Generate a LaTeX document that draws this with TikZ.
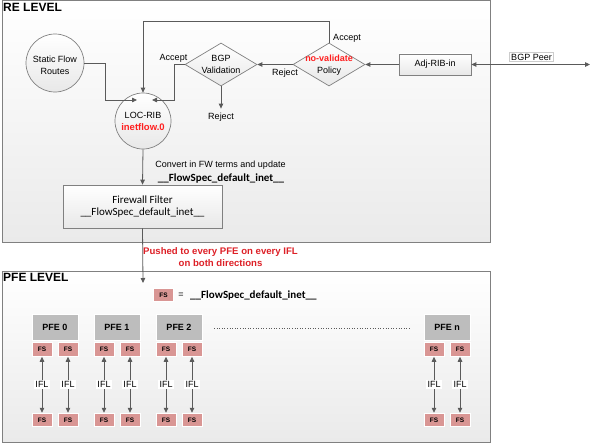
\documentclass[tikz,border=0pt]{standalone}
\usepackage{fontspec}
\setmainfont{Liberation Sans}
\newfontfamily\calfont{Carlito}
\usetikzlibrary{shapes.geometric,arrows.meta}
\definecolor{ln}{HTML}{5A5A5A}
\definecolor{bd}{HTML}{808080}
\definecolor{fsfill}{HTML}{D99694}
\definecolor{pfefill}{HTML}{BDBDBD}
\definecolor{redtxt}{HTML}{FF1F1F}
\definecolor{redpush}{HTML}{DD2027}
\definecolor{lvlbot}{HTML}{EAEAEA}
\definecolor{shpbot}{HTML}{E8E8E8}
\newcommand{\fsname}{\_\_FlowSpec\_default\_inet\_\_}
\begin{document}
\begin{tikzpicture}[x=1pt,y=-1pt,
  every node/.style={font=\fontsize{9}{12}\selectfont, inner sep=0pt, text=black},
  arr/.style={draw=ln, line width=0.8pt, -{Triangle[length=5pt,width=4.5pt]}},
  dblarr/.style={draw=ln, line width=0.8pt, {Triangle[length=5pt,width=4.5pt]}-{Triangle[length=5pt,width=4.5pt]}},
  levelbox/.style={rectangle, draw=bd, line width=1pt, top color=white, bottom color=lvlbot},
  circ/.style={circle, draw=bd, line width=0.7pt, top color=white, bottom color=shpbot},
  dia/.style={diamond, draw=bd, line width=0.7pt, top color=white, bottom color=shpbot, minimum width=72pt, minimum height=43pt},
  rbox/.style={rectangle, draw=bd, line width=0.7pt, top color=white, bottom color=shpbot},
  fsbox/.style={rectangle, fill=fsfill, draw=white, line width=1pt, minimum width=20pt, minimum height=13.5pt, font=\fontsize{6.5}{7}\selectfont\bfseries},
  pfebox/.style={rectangle, fill=pfefill, draw=white, line width=1pt, minimum width=46pt, minimum height=26pt, font=\fontsize{9}{10}\selectfont\bfseries},
  ifl/.style={fill=white, inner sep=1.5pt},
  title/.style={anchor=west, font=\fontsize{12}{13}\selectfont\bfseries, text=black},
  fsbold/.style={font=\calfont\fontsize{11}{12}\selectfont\bfseries, text=black}
]
\useasboundingbox (0,0) rectangle (599,444);

% level boxes
\node[levelbox, minimum width=488pt, minimum height=241pt] (re) at (246,121.5) {};
\node[levelbox, minimum width=488pt, minimum height=171pt] (pfe) at (246,356.5) {};
\node[title] (retitle) at (3,7) {RE LEVEL};
\node[title] (pfetitle) at (3,277.5) {PFE LEVEL};

% RE level shapes
\node[circ, minimum size=58pt] (stat) at (55,63) {};
\node[align=center] (stattxt) at (55,65) {Static Flow\\Routes};
\node[circ, minimum size=56pt] (loc) at (143,121) {};
\node[align=center] (loctxt) at (143,121) {LOC-RIB\\{\color{redtxt}\bfseries\fontsize{9.5}{12}\selectfont inetflow.0}};
\node[dia] (bgp) at (221,64.5) {};
\node[align=center] (bgptxt) at (221,64.5) {BGP\\Validation};
\node[dia] (pol) at (329,64.5) {};
\node[align=center] (poltxt) at (329,65) {{\color{redtxt}\bfseries no-validate}\\Policy};
\node[rbox, minimum width=72pt, minimum height=21pt] (adj) at (435,64.5) {Adj-RIB-in};
\node[fill=white, draw=black!20, line width=0.5pt, inner xsep=1.5pt, inner ysep=1.5pt] (peer) at (531.5,57) {BGP Peer};
\coordinate (peerend) at (590,64.5);
\node[rbox, minimum width=159pt, minimum height=43pt, align=center, font=\calfont\fontsize{11}{12.5}\selectfont] (fw) at (142.5,206.5) {Firewall Filter\\\fsname};

\node (rej1) at (285,73) {Reject};
\node (acc1) at (347,38) {Accept};
\node (acc2) at (173.5,58) {Accept};
\node (rej2) at (221,117) {Reject};
\node (conv) at (220.5,165) {Convert in FW terms and update};
\node[fsbold] (convfs) at (221,178.5) {\fsname};
\node[align=center, font=\fontsize{9.6}{12}\selectfont\bfseries, text=redpush] (push) at (220.5,257) {Pushed to every PFE on every IFL\\on both directions};

\coordinate (e1) at (137,100);
\coordinate (e2) at (152,100);
\coordinate (pushend) at (143,283);

% RE connectors
\draw[dblarr] (adj.east) -- (peerend);
\draw[arr] (adj.west) -- (pol.east);
\draw[arr] (pol.west) -- (bgp.east);
\draw[arr] (pol.north) -- ++(0,-21) -| (loc.north);
\draw[arr] (bgp.west) -- ++(-10,0) |- (e2);
\draw[arr] (stat.east) -- ++(21,0) |- (e1);
\draw[arr, shorten >=4pt] (bgp.south) -- (rej2.north);
\draw[arr] (loc.south) -- (fw.north);
\draw[arr] (fw.south) -- (pushend);

% PFE legend
\node[fsbox] (leg) at (163.5,295) {FS};
\node (eq) at (181,295) {=};
\node[fsbold, anchor=west] (legtxt) at (190,295.5) {\fsname};

% dotted
\coordinate (d1) at (214,328);
\coordinate (d2) at (410,328);
\draw[ln, line width=0.6pt, dotted] (d1) -- (d2);

% PFEs
\foreach \n/\x/\lab in {0/32/PFE 0, 1/94/PFE 1, 2/156/PFE 2, n/424/PFE n}{
  \node[pfebox] (p\n) at (\x+23,327) {\lab};
  \node[fsbox] (ta\n) at (\x+10,349.5) {FS};
  \node[fsbox] (tb\n) at (\x+36,349.5) {FS};
  \node[fsbox] (ba\n) at (\x+10,420) {FS};
  \node[fsbox] (bb\n) at (\x+36,420) {FS};
  \draw[dblarr] (ta\n.south) -- node[ifl] {IFL} (ba\n.north);
  \draw[dblarr] (tb\n.south) -- node[ifl] {IFL} (bb\n.north);
}
\end{tikzpicture}
\end{document}
